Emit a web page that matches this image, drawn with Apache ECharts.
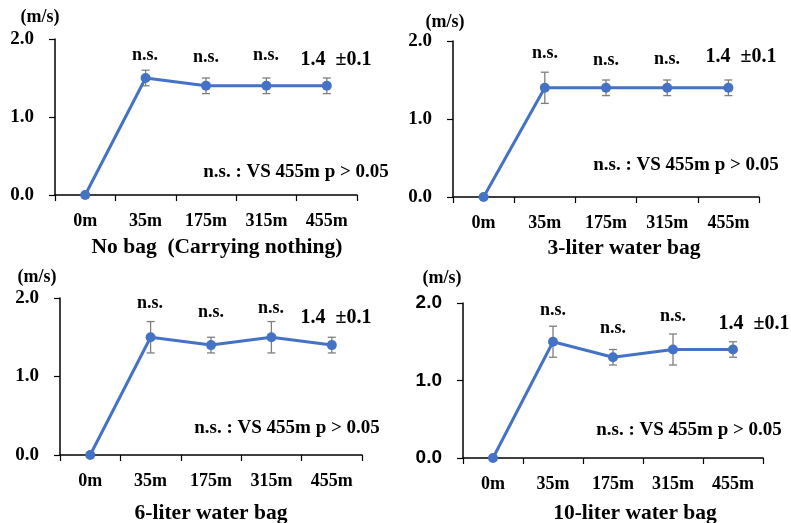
<!DOCTYPE html>
<html>
<head>
<meta charset="utf-8">
<script src="https://cdn.jsdelivr.net/npm/echarts@6/dist/echarts.min.js"></script>
<style>
  html, body { margin: 0; padding: 0; background: #fff; }
  #main { width: 791px; height: 523px; }
</style>
</head>
<body>
<div id="main"></div>
<script>
// 距离分类
var categories = ['0m', '35m', '175m', '315m', '455m'];
var yTicks = [0, 1, 2];

// 各条件的平均速度及标准差 (m/s)
var noBagMean = [0, 1.5, 1.4, 1.4, 1.4];
var noBagSD = [0, 0.1, 0.1, 0.1, 0.1];
var bag3Mean = [0, 1.4, 1.4, 1.4, 1.4];
var bag3SD = [0, 0.2, 0.1, 0.1, 0.1];
var bag6Mean = [0, 1.5, 1.4, 1.5, 1.4];
var bag6SD = [0, 0.2, 0.1, 0.2, 0.1];
var bag10Mean = [0, 1.5, 1.3, 1.4, 1.4];
var bag10SD = [0, 0.2, 0.1, 0.2, 0.1];

var panelTitles = ['No bag  (Carrying nothing)', '3-liter water bag', '6-liter water bag', '10-liter water bag'];
var meanNote = '1.4 \u00A0\u00B10.1';
var footNote = 'n.s. : VS 455m p > 0.05';

var serif = '"Liberation Serif", "Times New Roman", serif';
var sans = '"Liberation Sans", Arial, sans-serif';
var lineColor = '#4472C4';

var panels = [
    { mean: noBagMean, sd: noBagSD, grid: { left: 55, top: 39, width: 302, height: 156 }, yFont: serif,
      unit: [40, 17], title: [217, 247], note: [336, 60], foot: [296, 172],
      ns: [[145, 55], [206, 57], [266, 55]] },
    { mean: bag3Mean, sd: bag3SD, grid: { left: 453, top: 41, width: 306, height: 156 }, yFont: serif,
      unit: [445, 22], title: [624, 248], note: [741, 57], foot: [686, 165],
      ns: [[545, 53], [606, 60], [667, 59]] },
    { mean: bag6Mean, sd: bag6SD, grid: { left: 60, top: 298, width: 302, height: 157 }, yFont: serif,
      unit: [37, 277], title: [211, 513], note: [336, 318], foot: [287, 428],
      ns: [[150, 303], [211, 312], [271, 308]] },
    { mean: bag10Mean, sd: bag10SD, grid: { left: 463, top: 303, width: 300, height: 155 }, yFont: sans,
      unit: [442, 278], title: [635, 513], note: [754, 324], foot: [689, 430],
      ns: [[553, 310], [613, 328], [673, 316]] }
];

var chart = echarts.init(document.getElementById('main'));

var grids = [], xAxes = [], yAxes = [], series = [], graphics = [];

function textEl(x, y, text, size) {
    return {
        type: 'text', x: x, y: y, z: 10,
        style: {
            text: text, fill: '#000', font: 'bold ' + size + 'px ' + serif,
            textAlign: 'center', textVerticalAlign: 'middle'
        }
    };
}

panels.forEach(function (p, i) {
    grids.push(p.grid);
    xAxes.push({
        type: 'category', gridIndex: i, data: categories, boundaryGap: true,
        axisLine: { lineStyle: { color: '#000', width: 1.5 } },
        axisTick: { show: true, length: 6, lineStyle: { color: '#000', width: 1.2 } },
        axisLabel: { color: '#000', fontFamily: serif, fontWeight: 'bold', fontSize: 18, margin: 17 },
        splitLine: { show: false }
    });
    yAxes.push({
        type: 'value', gridIndex: i, min: 0, max: 2, interval: 1,
        axisLine: { show: true, lineStyle: { color: '#000', width: 1.5 } },
        axisTick: { show: true, length: 6, lineStyle: { color: '#000', width: 1.2 } },
        axisLabel: {
            color: '#000', fontFamily: p.yFont, fontWeight: 'bold', fontSize: 19, margin: 21,
            formatter: function (v) { return yTicks.indexOf(v) >= 0 ? v.toFixed(1) : ''; }
        },
        splitLine: { show: false }
    });

    var errData = p.mean.map(function (m, k) {
        return [k, m - p.sd[k], m + p.sd[k]];
    });
    series.push({
        type: 'custom', xAxisIndex: i, yAxisIndex: i, z: 1,
        data: errData,
        renderItem: function (params, api) {
            var lo = api.coord([api.value(0), api.value(1)]);
            var hi = api.coord([api.value(0), api.value(2)]);
            if (Math.abs(hi[1] - lo[1]) < 0.5) return;
            var w = 4;
            var st = { stroke: '#7f7f7f', lineWidth: 1.3 };
            return {
                type: 'group',
                children: [
                    { type: 'line', shape: { x1: lo[0], y1: lo[1], x2: hi[0], y2: hi[1] }, style: st },
                    { type: 'line', shape: { x1: lo[0] - w, y1: lo[1], x2: lo[0] + w, y2: lo[1] }, style: st },
                    { type: 'line', shape: { x1: hi[0] - w, y1: hi[1], x2: hi[0] + w, y2: hi[1] }, style: st }
                ]
            };
        }
    });
    series.push({
        type: 'line', xAxisIndex: i, yAxisIndex: i, z: 2,
        data: p.mean,
        symbol: 'circle', symbolSize: 10,
        lineStyle: { color: lineColor, width: 3 },
        itemStyle: { color: lineColor },
        animation: false
    });

    graphics.push(textEl(p.unit[0], p.unit[1], '(m/s)', 18));
    graphics.push(textEl(p.title[0], p.title[1], panelTitles[i], 21.5));
    graphics.push(textEl(p.note[0], p.note[1], meanNote, 20));
    graphics.push(textEl(p.foot[0], p.foot[1], footNote, 19));
    p.ns.forEach(function (pt) {
        graphics.push(textEl(pt[0], pt[1], 'n.s.', 18));
    });
});

chart.setOption({
    backgroundColor: '#fff',
    animation: false,
    grid: grids,
    xAxis: xAxes,
    yAxis: yAxes,
    series: series,
    graphic: graphics
});
</script>
</body>
</html>
